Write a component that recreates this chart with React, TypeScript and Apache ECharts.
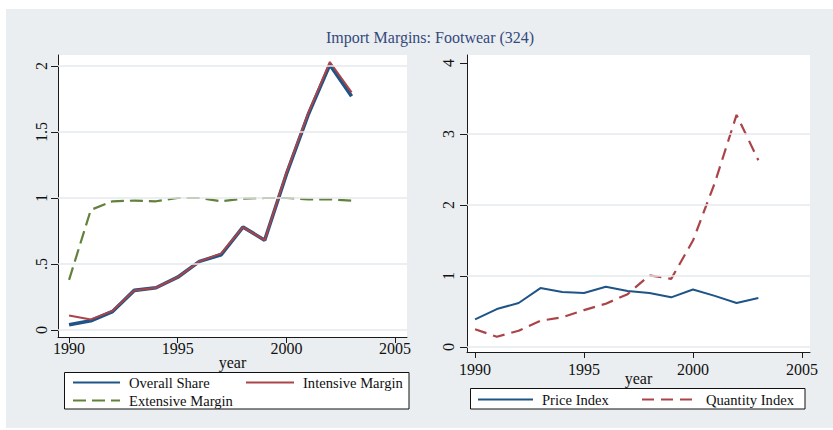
import React, { useEffect, useRef } from "react";
import * as echarts from "echarts";

const years = [1990, 1991, 1992, 1993, 1994, 1995, 1996, 1997, 1998, 1999, 2000, 2001, 2002, 2003];
const overallShare = [0.04, 0.07, 0.14, 0.3, 0.32, 0.4, 0.52, 0.57, 0.78, 0.68, 1.18, 1.63, 2.01, 1.77];
const intensiveMargin = [0.11, 0.08, 0.145, 0.3, 0.32, 0.4, 0.52, 0.58, 0.78, 0.68, 1.19, 1.64, 2.03, 1.8];
const extensiveMargin = [0.38, 0.91, 0.975, 0.98, 0.975, 1.0, 1.0, 0.975, 0.995, 1.0, 1.0, 0.99, 0.99, 0.98];
const priceIndex = [0.39, 0.535, 0.62, 0.83, 0.775, 0.76, 0.85, 0.79, 0.76, 0.7, 0.81, 0.72, 0.62, 0.69];
const quantityIndex = [0.25, 0.145, 0.23, 0.37, 0.42, 0.52, 0.61, 0.745, 1.01, 0.96, 1.5, 2.31, 3.27, 2.63];

const xTicks = [1990, 1995, 2000, 2005];
const leftYTicks = [0, 0.5, 1, 1.5, 2];
const rightYTicks = [0, 1, 2, 3, 4];
const leftGridLines = [0, 0.5, 1, 1.5, 2];
const rightGridLines = [0, 1, 2, 3];

const titleText = "Import Margins: Footwear (324)";

const SERIF = '"Liberation Serif", "DejaVu Serif", "Times New Roman", serif';
const BLUE = "#1f5486";
const RED = "#ab4449";
const GREEN = "#62813b";
const GRID = "#e4eaec";
const AXIS = "#1a1a1a";

const pairs = (vals: number[]) => years.map((y, i) => [y, vals[i]]);

const fmtLeft = (v: number) => (v === 0.5 ? ".5" : String(v));

function xAxis(gridIndex: number, min: number, max: number, labelMargin: number, nameGap: number) {
  return {
    type: "value",
    gridIndex,
    min,
    max,
    axisLine: { show: true, onZero: false, lineStyle: { color: AXIS, width: 1 } },
    axisTick: { show: true, length: 6, customValues: xTicks, lineStyle: { color: AXIS, width: 1 } },
    axisLabel: {
      customValues: xTicks,
      margin: labelMargin,
      fontSize: 16,
      fontFamily: SERIF,
      color: "#111",
      formatter: (v: number) => String(v),
    },
    splitLine: { show: false },
    name: "year",
    nameLocation: "middle",
    nameGap,
    nameMoveOverlap: false,
    nameTextStyle: { fontSize: 16, fontFamily: SERIF, color: "#111" },
  };
}

function yAxis(gridIndex: number, min: number, max: number, ticks: number[], margin: number, fmt: (v: number) => string) {
  return {
    type: "value",
    gridIndex,
    min,
    max,
    axisLine: { show: true, onZero: false, lineStyle: { color: AXIS, width: 1 } },
    axisTick: { show: true, length: 7, customValues: ticks, lineStyle: { color: AXIS, width: 1 } },
    axisLabel: {
      customValues: ticks,
      rotate: 90,
      margin,
      fontSize: 16,
      fontFamily: SERIF,
      color: "#111",
      formatter: fmt,
    },
    splitLine: { show: false },
  };
}

function legendItem(name: string, left: number, top: number, itemWidth: number, gap: number) {
  return {
    data: [name],
    left,
    top,
    padding: 0,
    itemWidth,
    itemHeight: 14,
    itemGap: 0,
    selectedMode: false,
    itemStyle: { opacity: 0 },
    textStyle: { fontFamily: SERIF, fontSize: 14.6, color: "#111", padding: [0, 0, 0, gap] },
  };
}

function gridLineSeries(xi: number, values: number[]) {
  return {
    type: "line",
    xAxisIndex: xi,
    yAxisIndex: xi,
    data: [],
    z: 1,
    silent: true,
    markLine: {
      silent: true,
      symbol: ["none", "none"],
      label: { show: false },
      lineStyle: { color: GRID, width: 1.6, type: "solid" },
      data: values.map((v) => ({ yAxis: v })),
    },
  };
}

export default function App() {
  const ref = useRef<HTMLDivElement>(null);
  useEffect(() => {
    if (!ref.current) return;
    const chart = echarts.init(ref.current, null, { renderer: "svg" });
    chart.setOption({
      animation: false,
      backgroundColor: "#ffffff",
      title: {
        text: titleText,
        left: 326,
        top: 29,
        padding: 0,
        textStyle: { fontFamily: SERIF, fontSize: 16, fontWeight: "normal", color: "#34497c" },
      },
      graphic: [
        { type: "rect", z: -10, silent: true, shape: { x: 6, y: 9, width: 827, height: 419 }, style: { fill: "#eaeef0" } },
        { type: "rect", silent: true, shape: { x: 64.5, y: 372.5, width: 344.5, height: 36.5 }, style: { fill: "#fff", stroke: "#111", lineWidth: 1 } },
        { type: "rect", silent: true, shape: { x: 470.5, y: 388.5, width: 334.5, height: 20.5 }, style: { fill: "#fff", stroke: "#111", lineWidth: 1 } },
      ],
      grid: [
        { left: 58, top: 55, width: 349, height: 282, show: true, backgroundColor: "#fff", borderWidth: 0, containLabel: false },
        { left: 467, top: 55, width: 343, height: 297, show: true, backgroundColor: "#fff", borderWidth: 0, containLabel: false },
      ],
      xAxis: [xAxis(0, 1989.49, 2005.55, 3, 17), xAxis(1, 1989.63, 2005.37, 9, 18)],
      yAxis: [
        yAxis(0, -0.053, 2.083, leftYTicks, 9, fmtLeft),
        yAxis(1, -0.07, 4.113, rightYTicks, 11, (v: number) => String(v)),
      ],
      legend: [
        legendItem("Overall Share", 72, 375, 47, 4),
        legendItem("Intensive Margin", 245, 375, 48, 4),
        legendItem("Extensive Margin", 72, 393, 47, 4),
        legendItem("Price Index", 477, 392, 55, 4),
        legendItem("Quantity Index", 641, 392, 54, 5),
      ],
      series: [
        gridLineSeries(0, leftGridLines),
        gridLineSeries(1, rightGridLines),
        {
          name: "Overall Share",
          type: "line",
          xAxisIndex: 0,
          yAxisIndex: 0,
          symbol: "none",
          z: 2,
          data: pairs(overallShare),
          lineStyle: { color: BLUE, width: 3.6 },
          itemStyle: { color: BLUE },
        },
        {
          name: "Intensive Margin",
          type: "line",
          xAxisIndex: 0,
          yAxisIndex: 0,
          symbol: "none",
          z: 3,
          data: pairs(intensiveMargin),
          lineStyle: { color: RED, width: 2 },
          itemStyle: { color: RED },
        },
        {
          name: "Extensive Margin",
          type: "line",
          xAxisIndex: 0,
          yAxisIndex: 0,
          symbol: "none",
          z: 4,
          data: pairs(extensiveMargin),
          lineStyle: { color: GREEN, width: 2.2, type: [13, 6] },
          itemStyle: { color: GREEN },
        },
        {
          name: "Price Index",
          type: "line",
          xAxisIndex: 1,
          yAxisIndex: 1,
          symbol: "none",
          z: 2,
          data: pairs(priceIndex),
          lineStyle: { color: BLUE, width: 2 },
          itemStyle: { color: BLUE },
        },
        {
          name: "Quantity Index",
          type: "line",
          xAxisIndex: 1,
          yAxisIndex: 1,
          symbol: "none",
          z: 3,
          data: pairs(quantityIndex),
          lineStyle: { color: RED, width: 2.2, type: [12, 7] },
          itemStyle: { color: RED },
        },
      ],
    });
    return () => chart.dispose();
  }, []);
  return (
    <div
      ref={ref}
      style={{ position: "absolute", left: 0, top: 0, width: 833, height: 430 }}
    />
  );
}
